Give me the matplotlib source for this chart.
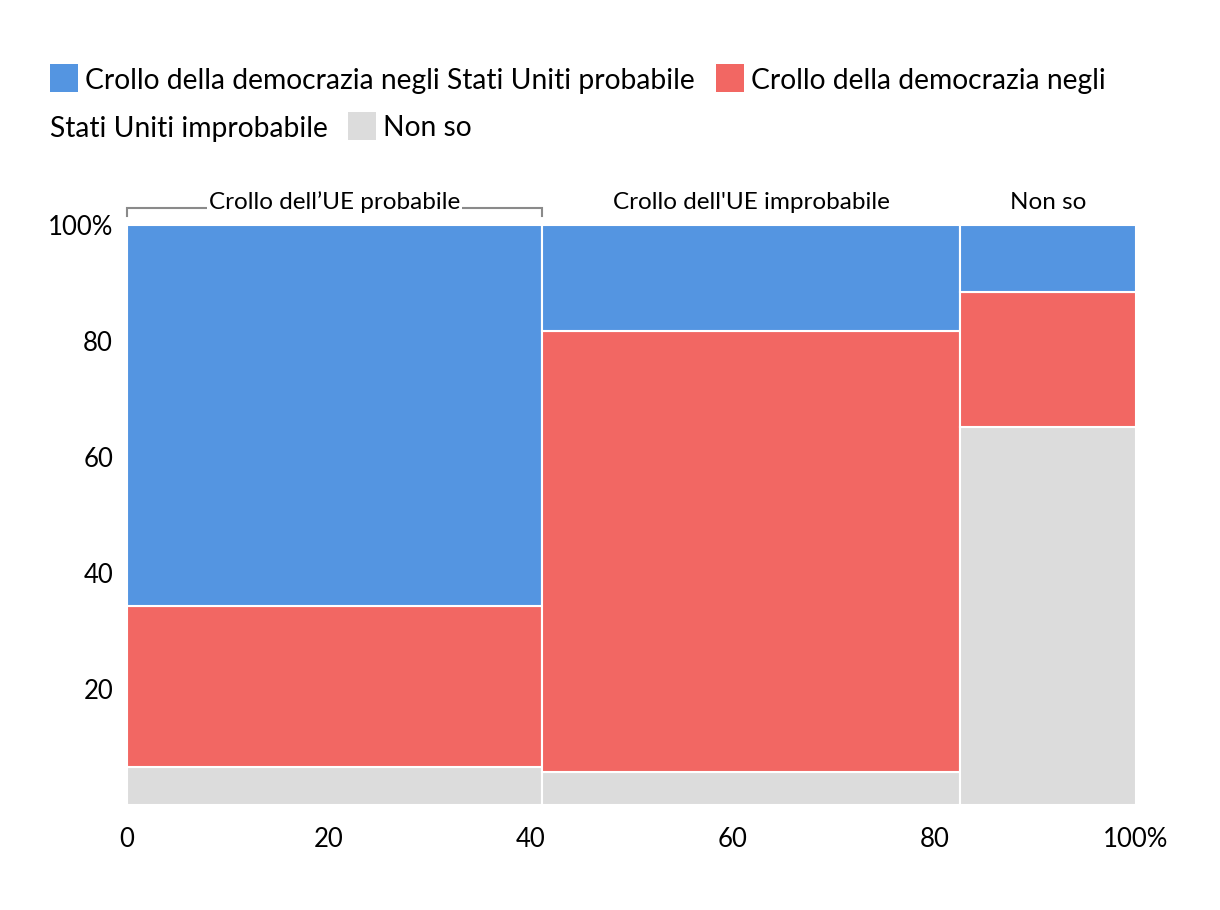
import matplotlib
matplotlib.use("Agg")
import matplotlib.pyplot as plt
from matplotlib.patches import Rectangle
import numpy as np

plt.rcParams['font.family'] = ['Lato', 'DejaVu Sans']

# ---- data ----
columns = ["Crollo dell’UE probabile", "Crollo dell'UE improbabile", "Non so"]
col_widths = [41.1, 41.5, 17.4]          # share of respondents (%)
# conditional shares within each column (%), bottom -> top
non_so = [6.5, 5.7, 65.2]
improbabile = [27.8, 76.0, 23.2]
probabile = [65.7, 18.3, 11.6]
series_names = ["Crollo della democrazia negli Stati Uniti probabile",
                "Crollo della democrazia negli Stati Uniti improbabile",
                "Non so"]
colors = {"prob": "#5495E1", "improb": "#F26763", "nonso": "#DCDCDC"}
xticks = [0, 20, 40, 60, 80, 100]
xticklabels = ["0", "20", "40", "60", "80", "100%"]
yticks = [20, 40, 60, 80, 100]
yticklabels = ["20", "40", "60", "80", "100%"]

W, H = 1220, 910
fig = plt.figure(figsize=(W / 100, H / 100), dpi=100)
ax = fig.add_axes([127 / W, (H - 805) / H, (1136 - 127) / W, (805 - 225) / H])

lefts = np.concatenate([[0], np.cumsum(col_widths)[:-1]])
for i in range(len(columns)):
    bottom = 0
    for vals, key in [(non_so, "nonso"), (improbabile, "improb"), (probabile, "prob")]:
        ax.bar(lefts[i], vals[i], width=col_widths[i], bottom=bottom, align='edge',
               color=colors[key], edgecolor='white', linewidth=1.5)
        bottom += vals[i]

ax.set_xlim(0, 100)
ax.set_ylim(0, 100)
for s in ax.spines.values():
    s.set_visible(False)
ax.set_xticks(xticks)
ax.set_xticklabels(xticklabels)
ax.set_yticks(yticks)
ax.set_yticklabels(yticklabels)
ax.tick_params(length=0, labelsize=18.5, colors='black', pad=10)
ax.tick_params(axis='x', pad=16)

# column headers
for i, name in enumerate(columns):
    cx = lefts[i] + col_widths[i] / 2
    bbox = dict(facecolor='white', edgecolor='none', pad=1.5) if i == 0 else None
    ax.text(cx, 103.9, name, ha='center', va='center', fontsize=17.5,
            color='black', bbox=bbox, zorder=5, clip_on=False)
# bracket over first column
x0, x1 = lefts[0], lefts[0] + col_widths[0]
ax.plot([x0, x0, x1, x1], [101.6, 103.0, 103.0, 101.6], color='#8a8a8a',
        lw=1.5, clip_on=False, zorder=3, solid_joinstyle='miter')

# legend (manual, wrapped like reference)
fig.canvas.draw()
renderer = fig.canvas.get_renderer()
fs = 20.3

def put_item(x, y, color, label):
    sq = 28
    if color is not None:
        fig.patches.append(Rectangle(((x) / W, (H - y - sq / 2) / H), sq / W, sq / H,
                                     transform=fig.transFigure, facecolor=color,
                                     edgecolor='none'))
        x += sq + 7
    t = fig.text(x / W, (H - y) / H, label, ha='left', va='center_baseline',
                 fontsize=fs, color='black')
    bb = t.get_window_extent(renderer)
    return bb.x1

row1, row2 = 78, 126
x = put_item(50, row1, colors["prob"], series_names[0])
x = put_item(x + 21, row1, colors["improb"], "Crollo della democrazia negli")
x = put_item(50, row2, None, "Stati Uniti improbabile")
x = put_item(x + 20, row2, colors["nonso"], series_names[2])

fig.savefig("out.png", dpi=100)
